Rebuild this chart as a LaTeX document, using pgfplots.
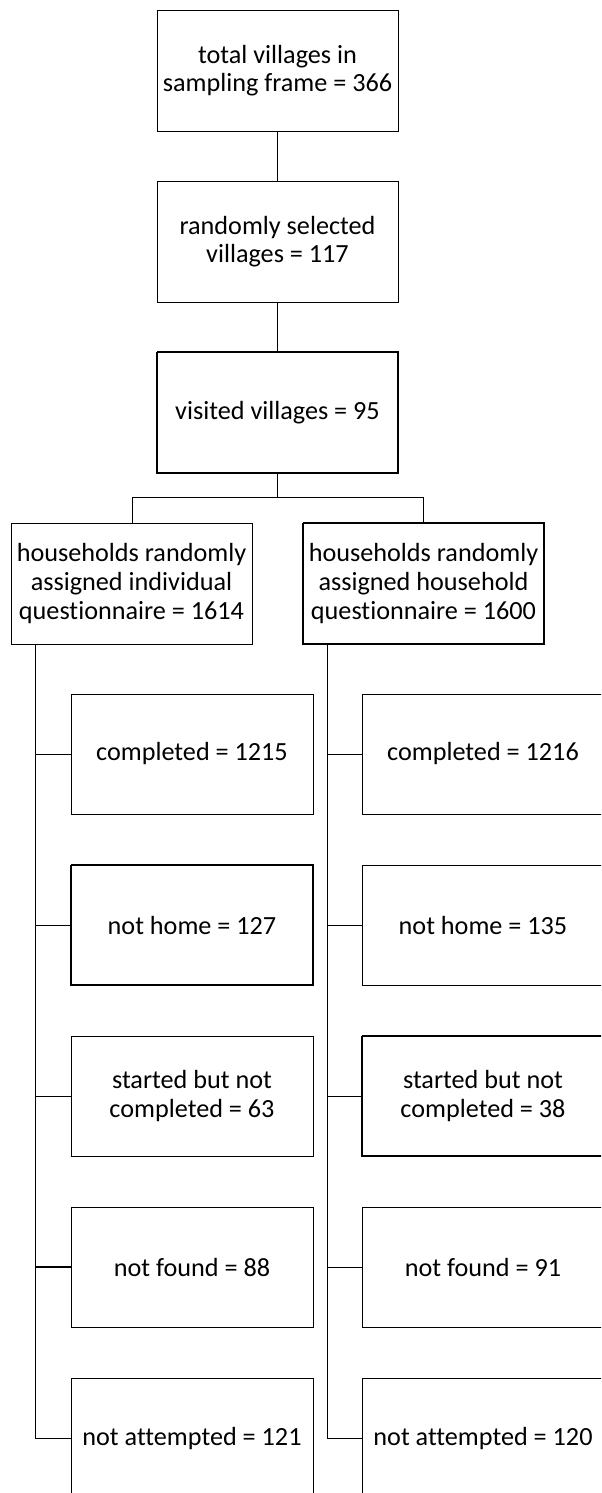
\documentclass[border=0pt]{standalone}
\usepackage{pgfplots}
\pgfplotsset{compat=1.18}
\usepackage{fontspec}
\setmainfont{Carlito}[Ligatures={NoCommon}]
\begin{document}
\begin{tikzpicture}
\useasboundingbox (0,0) rectangle (300.5pt,746.5pt);
\clip (0,0) rectangle (300.5pt,746.5pt);
\begin{axis}[
  at={(0,0)}, anchor=south west,
  scale only axis, width=300.5pt, height=746.5pt,
  xmin=0, xmax=601, ymin=0, ymax=1493, y dir=reverse,
  hide axis, clip=true,
  cycle list={{black, solid, line width=1.2pt, mark=none, line join=miter, line cap=rect}},
]
% main chain boxes
\addplot coordinates {(157,10) (398,10) (398,131) (157,131) (157,10)};
\addplot coordinates {(157,181) (398,181) (398,302) (157,302) (157,181)};
\addplot coordinates {(157,352) (398,352) (398,473) (157,473) (157,352)};
\addplot coordinates {(277.5,131) (277.5,181)};
\addplot coordinates {(277.5,302) (277.5,352)};
\addplot coordinates {(277.5,473) (277.5,497)};
\addplot coordinates {(132,523) (132,497) (423,497) (423,523)};
% household boxes
\addplot coordinates {(11,523) (252,523) (252,644) (11,644) (11,523)};
\addplot coordinates {(303,523) (544,523) (544,644) (303,644) (303,523)};
% trunks
\addplot coordinates {(35,644) (35,1438) (71,1438)};
\addplot coordinates {(327,644) (327,1438) (362,1438)};
% branch connectors
\addplot coordinates {(35,754) (71,754)};
\addplot coordinates {(35,925) (71,925)};
\addplot coordinates {(35,1096) (71,1096)};
\addplot coordinates {(35,1267) (71,1267)};
\addplot coordinates {(327,754) (362,754)};
\addplot coordinates {(327,925) (362,925)};
\addplot coordinates {(327,1096) (362,1096)};
\addplot coordinates {(327,1267) (362,1267)};
% left sub boxes
\addplot coordinates {(71,694) (313,694) (313,814) (71,814) (71,694)};
\addplot coordinates {(71,865) (313,865) (313,985) (71,985) (71,865)};
\addplot coordinates {(71,1036) (313,1036) (313,1156) (71,1156) (71,1036)};
\addplot coordinates {(71,1207) (313,1207) (313,1327) (71,1327) (71,1207)};
\addplot coordinates {(71,1378) (313,1378) (313,1499) (71,1499) (71,1378)};
% right sub boxes
\addplot coordinates {(362,694) (604,694) (604,814) (362,814) (362,694)};
\addplot coordinates {(362,865) (604,865) (604,985) (362,985) (362,865)};
\addplot coordinates {(362,1036) (604,1036) (604,1156) (362,1156) (362,1036)};
\addplot coordinates {(362,1207) (604,1207) (604,1327) (362,1327) (362,1207)};
\addplot coordinates {(362,1378) (604,1378) (604,1499) (362,1499) (362,1378)};
% texts
\tikzset{lab/.style={align=center, inner sep=0pt, font=\fontsize{13.1}{14.3}\selectfont}}
\node[lab] at (axis cs:277.5,70.5) {total villages in\\sampling frame = 366};
\node[lab] at (axis cs:277.5,241.5) {randomly selected\\villages = 117};
\node[lab] at (axis cs:277.5,412.5) {visited villages = 95};
\node[lab] at (axis cs:131.5,583.5) {households randomly\\assigned individual\\questionnaire = 1614};
\node[lab] at (axis cs:423.5,583.5) {households randomly\\assigned household\\questionnaire = 1600};
\node[lab] at (axis cs:192,754) {completed = 1215};
\node[lab] at (axis cs:192,925) {not home = 127};
\node[lab] at (axis cs:192,1096) {started but not\\completed = 63};
\node[lab] at (axis cs:192,1267) {not found = 88};
\node[lab] at (axis cs:192,1438) {not attempted = 121};
\node[lab] at (axis cs:483,754) {completed = 1216};
\node[lab] at (axis cs:483,925) {not home = 135};
\node[lab] at (axis cs:483,1096) {started but not\\completed = 38};
\node[lab] at (axis cs:483,1267) {not found = 91};
\node[lab] at (axis cs:483,1438) {not attempted = 120};
\end{axis}
\end{tikzpicture}
\end{document}
